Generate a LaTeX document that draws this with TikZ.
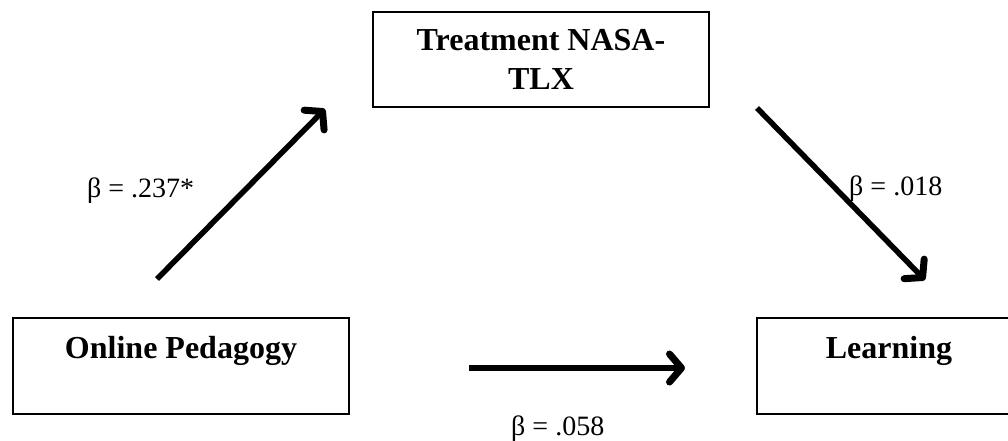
\documentclass[tikz,border=0pt]{standalone}
\usepackage{fontspec}
\setmainfont{Liberation Serif}
\usetikzlibrary{arrows.meta}
\begin{document}
\begin{tikzpicture}[x=1pt,y=-1pt,
  boxnode/.style={draw=black, line width=2.2pt, inner sep=0pt, font=\fontsize{32}{39}\selectfont\bfseries, align=center},
  onebox/.style={boxnode, minimum height=96pt, text height=40pt, text depth=56pt},
  pathlabel/.style={anchor=base west, inner sep=0pt, font=\fontsize{28}{34}\selectfont},
  patharrow/.style={line width=5.5pt, -{Straight Barb[length=12pt,width=28pt,line width=7pt,round]}}
]
\useasboundingbox (0,0) rectangle (1008,440);
\node[boxnode, minimum width=336pt, minimum height=95pt] (tlx) at (541,59.5) {Treatment NASA-\\TLX};
\node[onebox, minimum width=336pt] (op) at (181,366) {Online Pedagogy};
\node[onebox, minimum width=264pt] (learn) at (889,366) {Learning};
\coordinate (a1s) at (157,279);
\coordinate (a1e) at (325,109);
\coordinate (a2s) at (757,108);
\coordinate (a2e) at (925,280);
\coordinate (a3s) at (469,368);
\coordinate (a3e) at (685,368);
\draw[patharrow] (a1s) -- (a1e);
\draw[patharrow] (a2s) -- (a2e);
\draw[patharrow] (a3s) -- (a3e);
\node[pathlabel] (l1) at (87,197) {β = .237*};
\node[pathlabel] (l2) at (849,195) {β = .018};
\node[pathlabel] (l3) at (511,435) {β = .058};
\end{tikzpicture}
\end{document}
